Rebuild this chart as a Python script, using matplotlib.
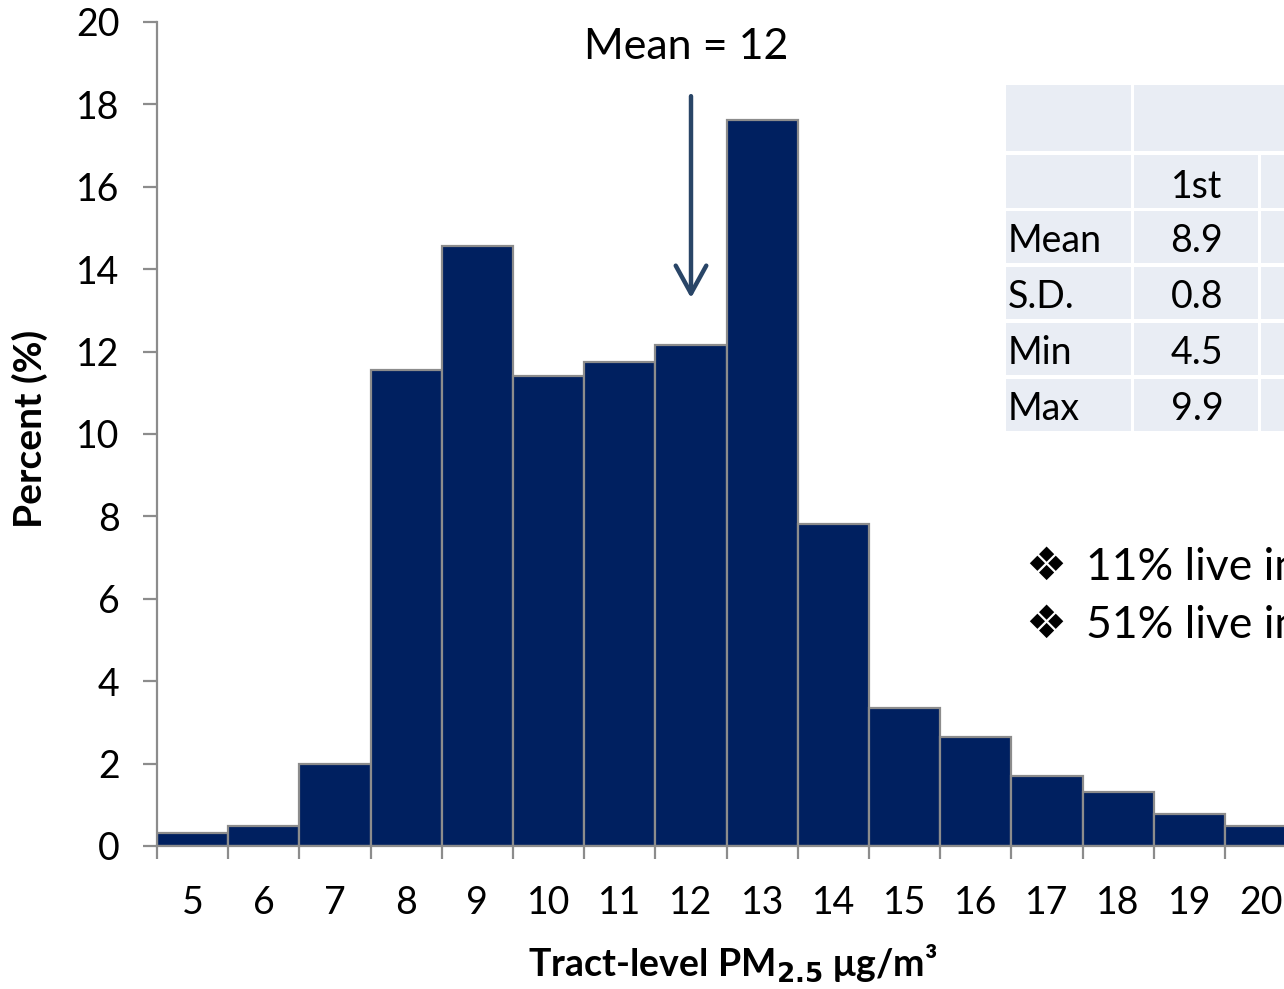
import matplotlib
matplotlib.use("Agg")
import matplotlib.pyplot as plt
from matplotlib.patches import Rectangle

plt.rcParams['font.family'] = ['Lato', 'DejaVu Sans']

# Histogram of tract-level PM2.5 (bins centred on integer values)
bin_centers = [5, 6, 7, 8, 9, 10, 11, 12, 13, 14, 15, 16, 17, 18, 19, 20]
percent = [0.32, 0.49, 2.0, 11.55, 14.56, 11.41, 11.75, 12.16, 17.62,
           7.82, 3.35, 2.65, 1.70, 1.31, 0.78, 0.49]
mean_value = 12
y_ticks = [0, 2, 4, 6, 8, 10, 12, 14, 16, 18, 20]

# Summary table
table_header = "1st"
row_labels = ["Mean", "S.D.", "Min", "Max"]
row_values = ["8.9", "0.8", "4.5", "9.9"]

bullets = ["11% live in", "51% live in"]

W, H = 1284, 989
BAR = "#002060"
EDGE = "#8c8c8c"

def fx(px):
    return px / W

def fy(py):
    return 1 - py / H

fig = plt.figure(figsize=(W / 100, H / 100), dpi=100)
unit = 71.2
x0, x1 = 4.5, 22.5
ax = fig.add_axes([fx(157), fy(846), (x1 - x0) * unit / W, (846 - 22) / H])

ax.bar(bin_centers, percent, width=1.0, color=BAR, edgecolor=EDGE,
       linewidth=1.6, zorder=2)

ax.set_xlim(x0, x1)
ax.set_ylim(0, 20)
for s in ("top", "right"):
    ax.spines[s].set_visible(False)
for s in ("left", "bottom"):
    ax.spines[s].set_color(EDGE)
    ax.spines[s].set_linewidth(1.6)

ax.set_yticks(y_ticks)
ax.tick_params(axis='y', length=10, width=1.6, color=EDGE, labelsize=27, pad=17)

edges = [c - 0.5 for c in bin_centers] + [bin_centers[-1] + 0.5]
ax.set_xticks(edges)
ax.set_xticklabels([])
ax.tick_params(axis='x', which='major', length=9.5, width=1.6, color=EDGE)
ax.set_xticks(bin_centers, minor=True)
ax.set_xticklabels([str(c) for c in bin_centers], minor=True)
ax.tick_params(axis='x', which='minor', length=0, labelsize=27, pad=28)

fig.text(fx(30), fy(429), "Percent (%)", rotation=90, ha='center', va='center',
         fontsize=28, fontweight='bold')
fig.text(fx(733), fy(963), r"Tract-level PM$_{\mathbf{2.5}}$ μg/m³", ha='center',
         va='center', fontsize=27, fontweight='bold')

# Mean marker
ax.annotate("", xy=(mean_value, 13.3), xytext=(mean_value, 18.2),
            arrowprops=dict(arrowstyle="->,head_length=1.0,head_width=0.55",
                            mutation_scale=20, color="#294567", lw=3.2,
                            shrinkA=0, shrinkB=0))
ax.text(mean_value - 0.07, 19.4, f"Mean = {mean_value}", ha='center', va='center',
        fontsize=31)

# Table of summary statistics
CELL = "#e9edf4"
col_x = [(1006, 1131), (1134, 1258), (1261, 1290)]
row_y = [(155, 208), (211, 263), (267, 319), (323, 375), (379, 431)]

def cell(x_a, x_b, y_a, y_b):
    fig.add_artist(Rectangle((fx(x_a), fy(y_b)), fx(x_b) - fx(x_a),
                             fy(y_a) - fy(y_b), transform=fig.transFigure,
                             facecolor=CELL, edgecolor='none'))

cell(1006, 1131, 85, 151)
cell(1134, 1290, 85, 151)
for ya, yb in row_y:
    for xa, xb in col_x:
        cell(xa, xb, ya, yb)

fig.text(fx(1197), fy((155 + 208) / 2 + 5), table_header, ha='center', va='center',
         fontsize=27)
for (ya, yb), lab, val in zip(row_y[1:], row_labels, row_values):
    yc = fy((ya + yb) / 2 + 4)
    fig.text(fx(1008), yc, lab, ha='left', va='center', fontsize=27)
    fig.text(fx(1197), yc, val, ha='center', va='center', fontsize=27)

for yc, b in zip([567, 625], bullets):
    fig.text(fx(1025), fy(yc), "❖", ha='left', va='center', fontsize=33,
             family=['DejaVu Sans'])
    fig.text(fx(1086), fy(yc), b, ha='left', va='center', fontsize=32)

fig.savefig("out.png", dpi=100)
